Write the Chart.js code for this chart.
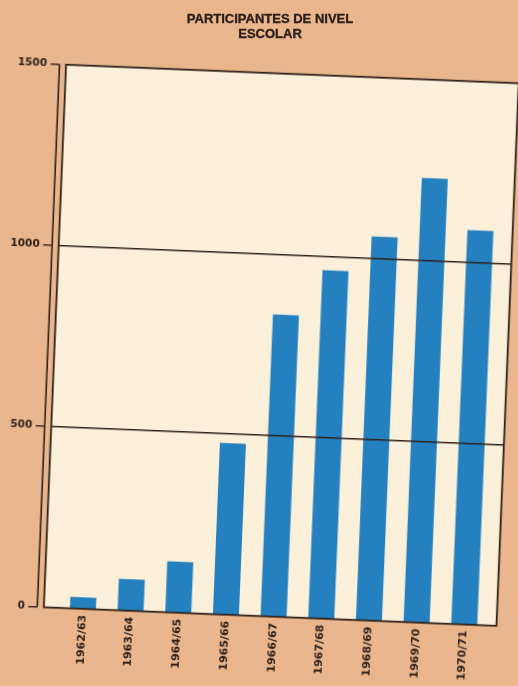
<!DOCTYPE html>
<html><head><meta charset="utf-8">
<script src="https://cdn.jsdelivr.net/npm/chart.js@4.4.1/dist/chart.umd.min.js"></script>
<style>
html,body{margin:0;padding:0;background:#e9b68e;width:518px;height:686px;overflow:hidden}
#wrap{position:absolute;left:0;top:0;width:518px;height:686px;transform-origin:281.25px 345.25px;transform:rotate(2.35deg)}
#title{position:absolute;left:11px;top:10.6px;width:518px;text-align:center;font:bold 13px "Liberation Sans",Arial,sans-serif;line-height:15px;color:#2b1d18;-webkit-text-stroke:0.35px #2b1d18}
canvas{display:block}
</style></head><body>
<div id="wrap"><canvas id="c" width="518" height="686"></canvas></div>
<div id="title">PARTICIPANTES DE NIVEL<br>ESCOLAR</div>
<script>
const categories = ['1962/63','1963/64','1964/65','1965/66','1966/67','1967/68','1968/69','1969/70','1970/71'];
const participantes = [32, 87, 141, 474, 834, 962, 1061, 1228, 1089];
const yTickValues = [0, 500, 1000, 1500];
const yTickLabels = ['0', '500', '1000', '1500'];
const gridValues = [500, 1000];

const INK = '#2e2019';
const PAPER = '#fbf0da';
const BLUE = '#2580bf';

const framePlugin = {
  id: 'frame',
  beforeDraw(chart) {
    const {ctx, chartArea} = chart;
    const y = chart.scales.y;
    const left = chartArea.left - 15.25, right = chartArea.right + 8.35;
    const top = y.getPixelForValue(yTickValues[yTickValues.length-1]);
    const bottom = y.getPixelForValue(0);
    ctx.save();
    ctx.fillStyle = PAPER;
    ctx.fillRect(left, top, right - left, bottom - top);
    ctx.restore();
  },
  afterDatasetsDraw(chart) {
    const {ctx, chartArea} = chart;
    const y = chart.scales.y;
    const left = chartArea.left - 15.25, right = chartArea.right + 8.35;
    const top = y.getPixelForValue(yTickValues[yTickValues.length-1]);
    const bottom = y.getPixelForValue(0);
    ctx.save();
    ctx.strokeStyle = INK;
    ctx.lineWidth = 1.4;
    gridValues.forEach(v => {
      const py = y.getPixelForValue(v);
      ctx.beginPath(); ctx.moveTo(left, py); ctx.lineTo(right, py); ctx.stroke();
    });
    ctx.lineWidth = 1.8;
    ctx.strokeRect(left, top, right - left, bottom - top);
    const ax = left - 6.5;
    ctx.lineWidth = 1.6;
    ctx.beginPath(); ctx.moveTo(ax, top); ctx.lineTo(ax, bottom); ctx.stroke();
    ctx.lineWidth = 1.4;
    yTickValues.forEach(v => {
      const py = y.getPixelForValue(v);
      ctx.beginPath(); ctx.moveTo(ax - 9, py); ctx.lineTo(ax, py); ctx.stroke();
    });
    ctx.restore();
  }
};

new Chart(document.getElementById('c'), {
  type: 'bar',
  data: {
    labels: categories,
    datasets: [{
      data: participantes,
      backgroundColor: BLUE,
      borderWidth: 0,
      barPercentage: 0.545,
      categoryPercentage: 1
    }]
  },
  options: {
    responsive: false,
    animation: false,
    devicePixelRatio: 1,
    layout: {padding: {top: 73.75, right: 18.6, left: 0, bottom: 0}},
    plugins: {legend: {display: false}, tooltip: {enabled: false}, title: {display: false}},
    scales: {
      x: {
        grid: {display: false, drawTicks: false},
        border: {display: false},
        ticks: {
          minRotation: 90, maxRotation: 90, autoSkip: false, padding: 6,
          font: {family: 'DejaVu Sans', weight: 'bold', size: 11},
          color: INK
        },
        afterFit(s) { s.height = 69.25; }
      },
      y: {
        min: 0, max: 1500,
        afterBuildTicks(s) { s.ticks = yTickValues.map(v => ({value: v})); },
        grid: {display: false, drawTicks: false},
        border: {display: false},
        ticks: {
          padding: 34.3,
          font: {family: 'DejaVu Sans', weight: 'bold', size: 10.5},
          color: INK,
          callback(value) { const i = yTickValues.indexOf(value); return i >= 0 ? yTickLabels[i] : ''; }
        },
        afterFit(s) { s.width = 70; }
      }
    }
  },
  plugins: [framePlugin]
});
</script>
</body></html>
